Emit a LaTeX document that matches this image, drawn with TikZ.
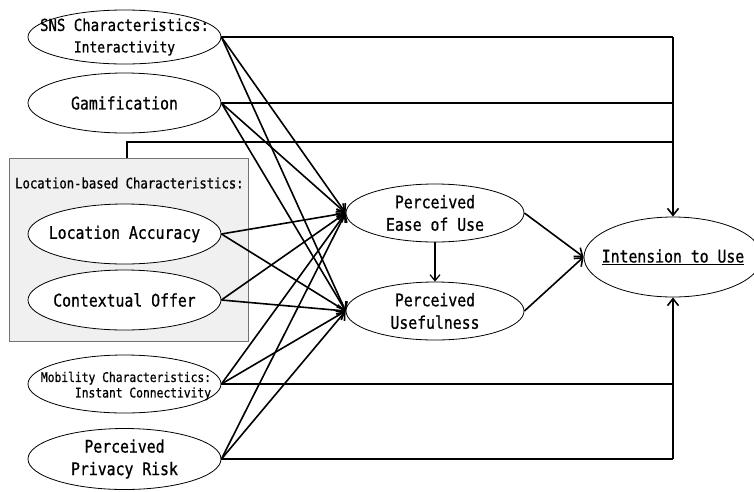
\documentclass[tikz,border=0pt]{standalone}
\usepackage{fontspec}
\newfontfamily\gf[FakeStretch=0.85,FakeBold=0.8]{DejaVu Sans Mono}
\usetikzlibrary{shapes.geometric,arrows.meta}
\begin{document}
\begin{tikzpicture}[x=1pt,y=-1pt,
  ell/.style={ellipse,draw,line width=0.8pt,inner sep=0pt,minimum width=193pt,minimum height=59pt,fill=white},
  mid/.style={ell,minimum width=178pt,minimum height=58pt},
  txt/.style={inner sep=0pt,align=center,font=\gf\fontsize{17.4}{22.5}\selectfont},
  conn/.style={line width=1.6pt},
  arr/.style={line width=1.6pt,-{Straight Barb[length=7pt,width=11pt]}},
  grpbox/.style={draw=black!55,line width=1.2pt,fill=black!6}]
\useasboundingbox (0,0) rectangle (754,491);
% group box
\node[grpbox,minimum width=239pt,minimum height=183pt,inner sep=0pt,anchor=north west] (box) at (9,158) {};
\node[anchor=west,inner sep=0pt,font=\gf\fontsize{14.4}{17}\selectfont] (boxlbl) at (15,183) {Location-based Characteristics:};
% nodes
\node[ell,minimum height=54pt] (sns) at (124.5,37) {};
\node[txt] (snst) at (sns) {{\fontsize{16.5}{18}\selectfont SNS Characteristics:}\\[-1pt]{\fontsize{15.2}{17}\selectfont Interactivity}};
\node[ell,minimum height=60pt] (gam) at (124.5,103) {};
\node[txt] (gamt) at (gam) {Gamification};
\node[ell,minimum height=60pt] (acc) at (124.5,234) {};
\node[txt] (acct) at (acc) {Location Accuracy};
\node[ell,minimum height=60pt] (ctx) at (124.5,300) {};
\node[txt] (ctxt) at (ctx) {Contextual Offer};
\node[ell,minimum height=58pt] (mob) at (124.5,384) {};
\node[txt,align=right,font=\gf\fontsize{13.3}{15.5}\selectfont] (mobt) at (126,386) {Mobility Characteristics:\\Instant Connectivity};
\node[ell,minimum height=61pt] (ppr) at (124.5,459) {};
\node[txt] (pprt) at (ppr) {Perceived\\Privacy Risk};
\node[mid] (peou) at (435,213) {};
\node[txt] (peout) at (peou) {Perceived\\Ease of Use};
\node[mid] (pu) at (435,311) {};
\node[txt] (put) at (pu) {Perceived\\Usefulness};
\node[ell,minimum width=178pt,minimum height=80pt] (itu) at (673,257) {};
\node[txt] (itut) at (itu) {\underline{Intension to Use}};
\coordinate (jtop) at (673,37);
\coordinate (jbot) at (673,460);
% direct paths to intention
\draw[conn] (sns.east) -- (jtop);
\draw[arr] (jtop) -- (itu.north);
\draw[conn] (gam.east) -- (gam.east -| jtop);
\draw[conn] (box.north -| 127,0) -- (127,142) -- (673,142);
\draw[conn] (mob.east) -- (mob.east -| jtop);
\draw[conn] (ppr.east) -- (ppr.east -| jbot);
\draw[arr] (ppr.east -| jbot) -- (itu.south);
% fan in
\foreach \s in {sns,gam,acc,ctx,mob,ppr}{
  \draw[arr] (\s.east) -- (peou.west);
  \draw[arr] (\s.east) -- (pu.west);
}
\draw[line width=1.2pt,-{Straight Barb[length=6pt,width=10pt]}] (peou.south) -- (pu.north);
\draw[arr] (peou.east) -- (itu.west);
\draw[arr] (pu.east) -- (itu.west);
\end{tikzpicture}
\end{document}
